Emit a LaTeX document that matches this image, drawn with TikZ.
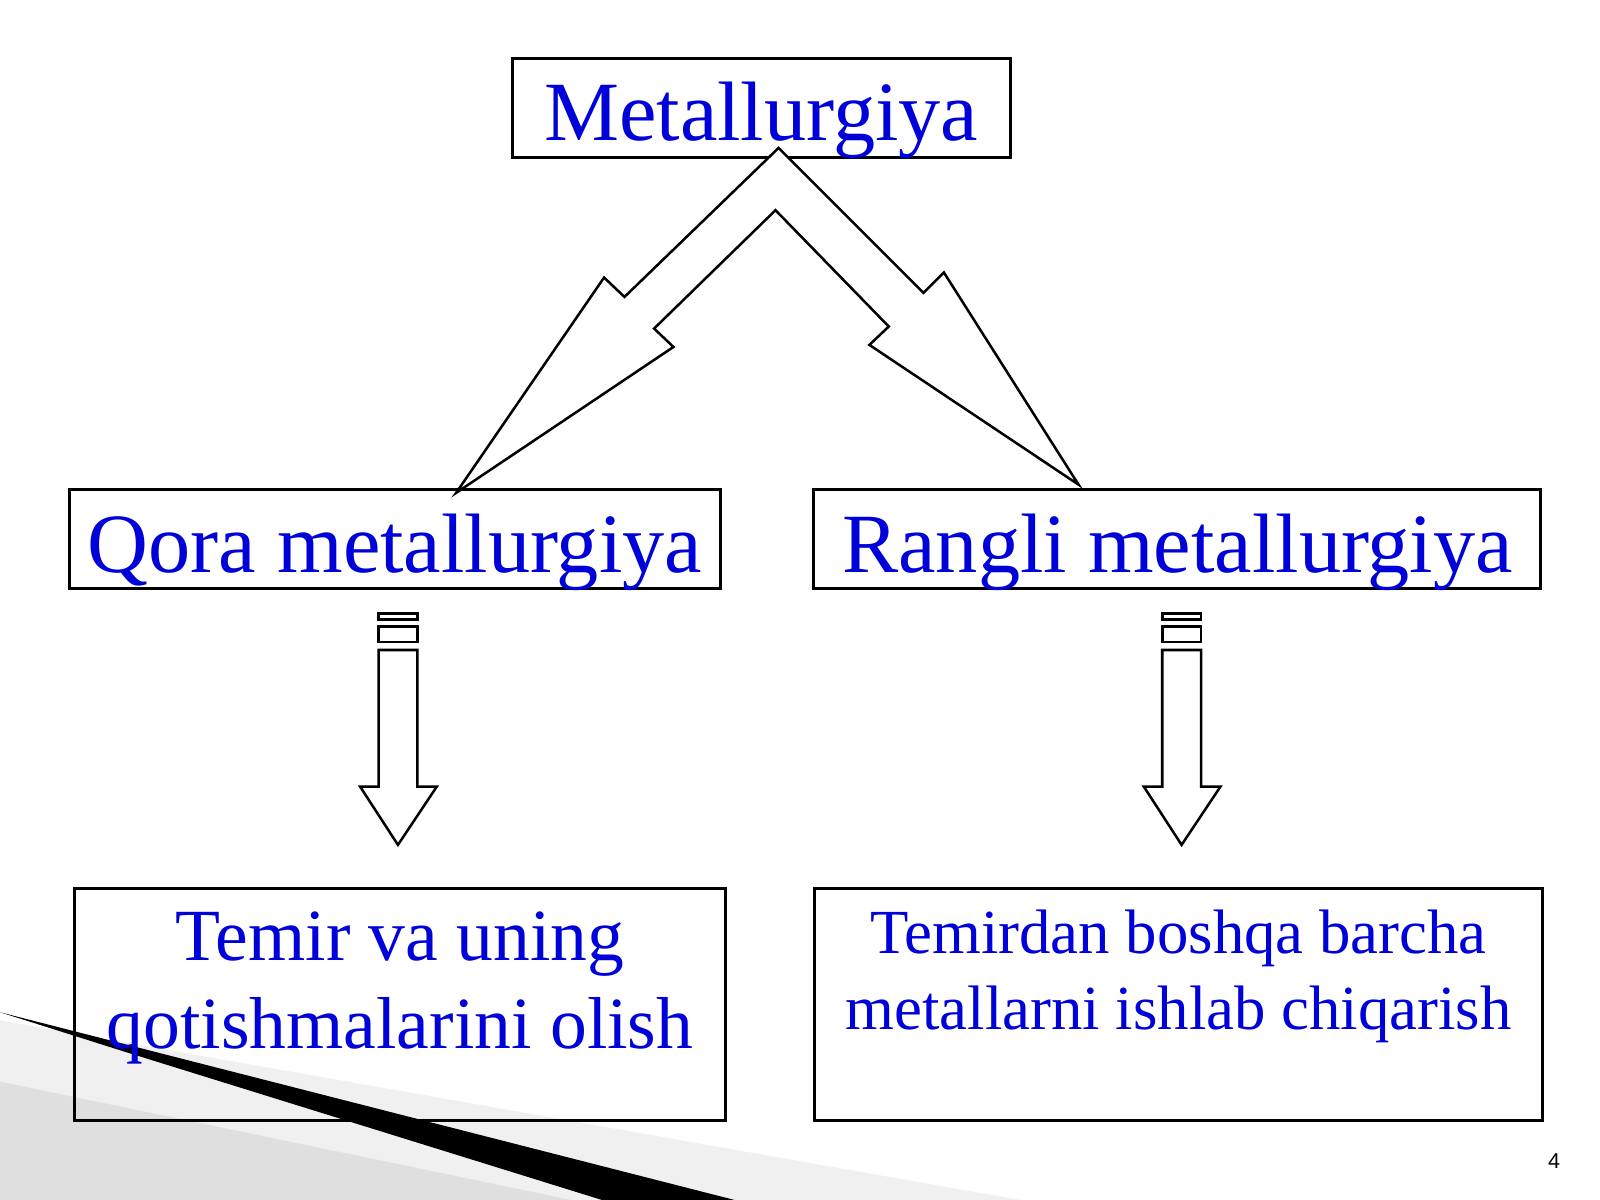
\documentclass[tikz,border=0pt]{standalone}
\usepackage{fontspec}
\setmainfont{Liberation Serif}
\newfontfamily\pnfont{Liberation Sans}
\begin{document}
\begin{tikzpicture}[x=0.01cm,y=-0.01cm,
  box/.style={draw=black,line width=0.8pt,fill=white,inner sep=0pt},
  big/.style={text=blue!85!black,font=\fontsize{23.5}{26}\selectfont},
  arr/.style={draw=black,line width=0.7pt,fill=white,line join=miter}]
\useasboundingbox (0,0) rectangle (1568,1176);
% decorative swoosh
\fill[gray!12] (0,1000) -- (1000,1176) -- (0,1176) -- cycle;
\fill[gray!25] (0,1060) -- (560,1176) -- (0,1176) -- cycle;
\fill[black] (0,992) -- (720,1176) -- (590,1176) -- (120,1030) -- cycle;
% boxes
\draw[box] (502,57) rectangle (990,154);
\node[big] (m) at (746,118) {Metallurgiya};
\draw[box] (68,480) rectangle (706,577);
\node[big] (q) at (387,541) {Qora metallurgiya};
\draw[box] (797,480) rectangle (1510,577);
\node[big] (r) at (1154,541) {Rangli metallurgiya};
\draw[box,fill=none] (73,871) rectangle (711,1098);
\node[text=blue!85!black,font=\fontsize{20.5}{24.5}\selectfont,align=center] (t1) at (392,968) {Temir va uning\\qotishmalarini olish};
\draw[box,fill=none] (798,871) rectangle (1512,1098);
\node[text=blue!85!black,font=\fontsize{17.5}{21}\selectfont,align=center] (t2) at (1155,957) {Temirdan boshqa barcha\\metallarni ishlab chiqarish};
% chevron arrows
\draw[arr] (763,145) -- (612,291) -- (592,272) -- (447,483) -- (660,340) -- (641,322) -- (760,206) -- (871,320) -- (852,338) -- (1057,475) -- (925,267) -- (905,287) -- cycle;
% down arrows
\foreach \c in {390,1158}{
  \draw[arr] (\c-19,601) rectangle (\c+19,607);
  \draw[arr] (\c-19,614) rectangle (\c+19,629);
  \draw[arr] (\c-19,637) -- (\c-19,771) -- (\c-37,771) -- (\c,828) -- (\c+38,771) -- (\c+19,771) -- (\c+19,637) -- cycle;
}
\node[font=\pnfont\fontsize{6}{7}\selectfont] (pn) at (1523,1138) {4};
\end{tikzpicture}
\end{document}
